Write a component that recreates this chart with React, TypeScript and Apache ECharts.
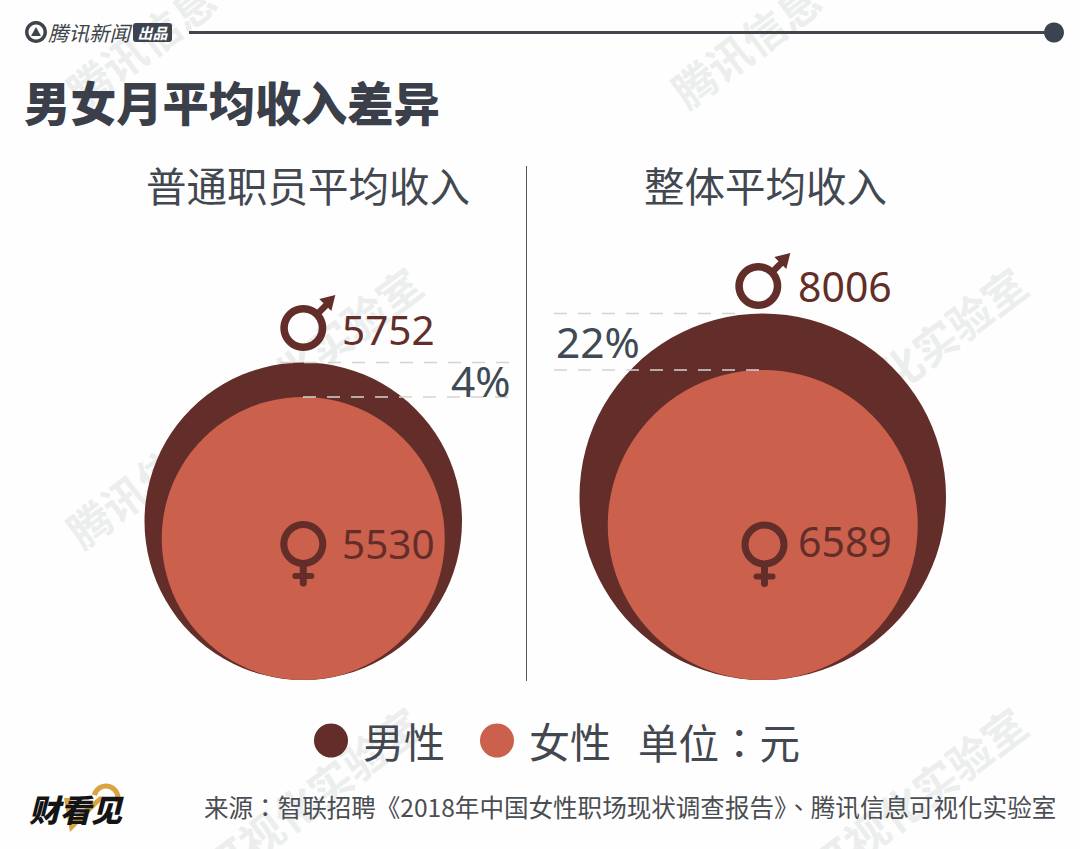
import React, { useEffect, useRef } from "react";
import * as echarts from "echarts";

const groups = ["普通职员平均收入", "整体平均收入"];
const maleIncome = [5752, 8006];
const femaleIncome = [5530, 6589];
const gapLabels = ["4%", "22%"];
const legendNames = ["男性", "女性"];
const unitText = "单位：元";
const mainTitle = "男女月平均收入差异";
const sourceText = "来源：智联招聘《2018年中国女性职场现状调查报告》、腾讯信息可视化实验室";
const watermark = "腾讯信息可视化实验室";

const CJK = '"Noto Sans CJK SC", "Noto Sans", sans-serif';
const TC = '"Noto Sans CJK TC", "Noto Sans", sans-serif';
const NUM = '"Noto Sans", "Noto Sans CJK SC", sans-serif';
const MALE = "#632e29";
const FEMALE = "#cb604d";
const INK = "#434850";
const BASE_Y = 680;

// Diameter scales of the two circle series (pixels per income).
const linear = (d0: number, r0: number, d1: number, r1: number) => (v: number) =>
  r0 + ((v - d0) * (r1 - r0)) / (d1 - d0);
const maleSize = linear(maleIncome[0], 317.5, maleIncome[1], 366.5);
const femaleSize = linear(femaleIncome[0], 283, femaleIncome[1], 310);

const txt = (text: string, x: number, y: number, fontSize: number, fill: string, extra: any = {}, z = 100, el: any = {}) => ({
  type: "text",
  z,
  silent: true,
  ...el,
  style: {
    text,
    x,
    y,
    fontSize,
    fill,
    fontFamily: CJK,
    textAlign: "left",
    textVerticalAlign: "middle",
    ...extra,
  },
});

const maleIcon = (x: number, y: number) => ({
  type: "group",
  x,
  y,
  z: 100,
  silent: true,
  children: [
    { type: "ring", z: 100, shape: { cx: 0, cy: 0, r: 23, r0: 15.5 }, style: { fill: MALE } },
    { type: "line", z: 100, shape: { x1: 14, y1: -14, x2: 27, y2: -27 }, style: { stroke: MALE, lineWidth: 6.5 } },
    { type: "polygon", z: 100, shape: { points: [[32, -33], [16, -29], [28, -17]] }, style: { fill: MALE } },
  ],
});

const femaleIcon = (x: number, y: number) => ({
  type: "group",
  x,
  y,
  z: 100,
  silent: true,
  children: [
    { type: "ring", z: 100, shape: { cx: 0, cy: 0, r: 23, r0: 16 }, style: { fill: MALE } },
    { type: "line", z: 100, shape: { x1: 0, y1: 21, x2: 0, y2: 39 }, style: { stroke: MALE, lineWidth: 7, lineCap: "round" } },
    { type: "line", z: 100, shape: { x1: -8, y1: 32, x2: 8, y2: 32 }, style: { stroke: MALE, lineWidth: 6, lineCap: "round" } },
  ],
});

const dash = (x1: number, x2: number, y: number) => ({
  type: "line",
  z: 100,
  silent: true,
  shape: { x1, y1: y, x2, y2: y },
  style: { stroke: "#d6d3cf", lineWidth: 1.5, lineDash: [13, 11] },
});

const wmCenters = [
  [243, 406],
  [848, 406],
  [243, -34],
  [848, -34],
  [243, 846],
  [848, 846],
];

export default function App() {
  const ref = useRef<HTMLDivElement>(null);
  useEffect(() => {
    const chart = echarts.init(ref.current!, undefined, { renderer: "svg" });
    const renderCircle = (scale: (v: number) => number) => (_: any, api: any) => {
      const p = api.coord([api.value(0), 0]);
      const d = scale(api.value(1));
      return {
        type: "circle",
        shape: { cx: p[0], cy: p[1] - d / 2, r: d / 2 },
        style: { fill: api.visual("color") },
      };
    };
    const top = (scale: (v: number) => number, v: number) => BASE_Y - scale(v);

    const graphic: any[] = [
      ...wmCenters.map(([x, y]) =>
        txt(watermark, 0, 0, 43, "#eceeee", { textAlign: "center", fontWeight: 700 }, 0, {
          x,
          y,
          rotation: (37 * Math.PI) / 180,
        })
      ),
      // header
      { type: "ring", z: 100, shape: { cx: 36, cy: 32, r: 11, r0: 7.5 }, style: { fill: "#3f444c" } },
      { type: "polygon", z: 100, shape: { points: [[36, 27], [41, 36], [31, 36]] }, style: { fill: "#3f444c" } },
      txt("腾讯新闻", 48, 32, 20.5, "#3f444c", { fontStyle: "italic" }),
      { type: "rect", z: 100, shape: { x: 133, y: 23, width: 39, height: 19, r: 3 }, style: { fill: "#3d4450" } },
      txt("出品", 152.5, 32.5, 15, "#ffffff", { fontStyle: "italic", fontWeight: 700, textAlign: "center" }),
      { type: "line", z: 100, shape: { x1: 189, y1: 32.5, x2: 1050, y2: 32.5 }, style: { stroke: "#43464c", lineWidth: 3 } },
      { type: "circle", z: 100, shape: { cx: 1054, cy: 32.5, r: 10 }, style: { fill: "#3b4250" } },
      txt(mainTitle, 24, 100, 46.2, "#3a3f4a", { fontWeight: 900 }),
      // panel titles and divider
      txt(groups[0], 146, 184, 40.5, INK),
      txt(groups[1], 644, 184, 40.5, INK),
      { type: "line", z: 100, shape: { x1: 526.5, y1: 166, x2: 526.5, y2: 681 }, style: { stroke: "#55585c", lineWidth: 1 } },
      // gap annotations
      dash(280, 510, top(maleSize, maleIncome[0])),
      dash(303, 510, top(femaleSize, femaleIncome[0])),
      dash(554, 745, top(maleSize, maleIncome[1])),
      dash(554, 760, top(femaleSize, femaleIncome[1])),
      txt(gapLabels[0], 451, 380, 42.5, "#3f4a55", { fontFamily: NUM }),
      txt(gapLabels[1], 556, 341, 42.5, "#3f4a55", { fontFamily: NUM }),
      // value labels
      maleIcon(303.3, 328),
      txt(String(maleIncome[0]), 342, 329, 40.5, MALE, { fontFamily: NUM }),
      maleIcon(758.3, 286),
      txt(String(maleIncome[1]), 798, 286, 41, MALE, { fontFamily: NUM }),
      femaleIcon(303.3, 544),
      txt(String(femaleIncome[0]), 342, 543, 40.5, MALE, { fontFamily: NUM }),
      femaleIcon(764.5, 544.5),
      txt(String(femaleIncome[1]), 798, 541, 41, MALE, { fontFamily: NUM }),
      // legend unit and footer
      txt(unitText, 638, 741, 40.5, INK, { fontFamily: TC }),
      txt(sourceText, 204, 806, 24.55, "#4a4d52", { fontFamily: TC }),
      // brand mark
      { type: "arc", z: 100, shape: { cx: 106, cy: 798, r: 12, startAngle: -2.9, endAngle: 0.4 }, style: { stroke: "#d9a441", lineWidth: 5, fill: "none" } },
      { type: "polygon", z: 100, shape: { points: [[64, 798], [70, 798], [74, 818], [100, 796], [104, 798], [70, 832]] }, style: { fill: "#d9a441" } },
      txt("财看见", 29, 808, 31, "#141414", { fontStyle: "italic", fontWeight: 900 }),
    ];

    chart.setOption({
      animation: false,
      backgroundColor: "#fefefe",
      grid: { left: 73.5, width: 919, top: 200, height: BASE_Y - 200, containLabel: false },
      xAxis: { type: "category", data: groups, show: false },
      yAxis: { type: "value", min: 0, max: 1, show: false },
      tooltip: { show: false },
      legend: {
        show: true,
        left: 309,
        top: 715,
        itemWidth: 34,
        itemHeight: 34,
        itemGap: 35,
        icon: "circle",
        selectedMode: false,
        data: legendNames,
        textStyle: { fontSize: 41, color: INK, fontFamily: CJK, padding: [0, 0, 0, 10] },
      },
      series: [
        {
          type: "custom",
          name: legendNames[0],
          coordinateSystem: "cartesian2d",
          itemStyle: { color: MALE },
          renderItem: renderCircle(maleSize),
          data: maleIncome.map((v, i) => [i, v]),
          encode: { x: 0 },
          z: 2,
        },
        {
          type: "custom",
          name: legendNames[1],
          coordinateSystem: "cartesian2d",
          itemStyle: { color: FEMALE },
          renderItem: renderCircle(femaleSize),
          data: femaleIncome.map((v, i) => [i, v]),
          encode: { x: 0 },
          z: 3,
        },
      ],
      graphic: { elements: graphic },
    });
    return () => chart.dispose();
  }, []);
  return <div ref={ref} style={{ position: "absolute", left: 0, top: 0, width: 1080, height: 849 }} />;
}
